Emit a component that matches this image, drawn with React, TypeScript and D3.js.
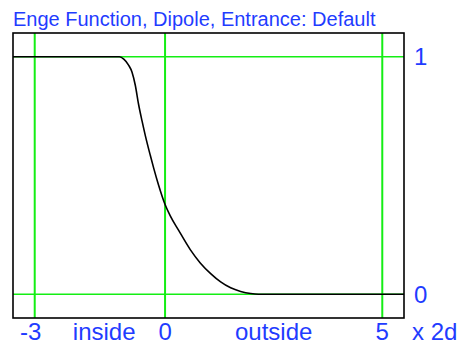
import React, { useEffect, useRef } from 'react'
import * as d3 from 'd3'

// field profile (position in gap units, normalised field)
const positions = [-3.5, -1.05, -0.95, -0.84, -0.76, -0.685, -0.61, -0.53, -0.45, -0.34, -0.26, -0.15, 0, 0.12, 0.31, 0.58, 0.81, 1.05, 1.28, 1.51, 1.74, 1.97, 2.15, 5.5]
const field = [1, 1, 0.99, 0.965, 0.935, 0.88, 0.8, 0.73, 0.665, 0.585, 0.53, 0.46, 0.378, 0.33, 0.27, 0.188, 0.132, 0.087, 0.052, 0.027, 0.012, 0.003, 0, 0]

const xGrid = [-3, 0, 5]
const yGrid = [0, 1]
const xLabels = [
  { v: -3, t: '-3' },
  { v: -1.4, t: 'inside' },
  { v: 0, t: '0' },
  { v: 2.5, t: 'outside' },
  { v: 5, t: '5' },
]
const title = 'Enge Function, Dipole, Entrance: Default'

const W = 459
const H = 343
const blue = '#1f3cff'
const green = '#14ee14'

const App = () => {
  const ref = useRef(null)

  useEffect(() => {
    const svg = d3.select(ref.current)
    svg.selectAll('*').remove()

    const box = { left: 13, right: 404, top: 33, bottom: 318 }

    const x = d3.scaleLinear().domain([-3.5, 5.5]).range([box.left, box.right])
    const y = d3.scaleLinear().domain([-0.1, 1.1]).range([box.bottom, box.top])

    svg.append('text')
      .attr('x', 13)
      .attr('y', 26)
      .attr('fill', blue)
      .attr('font-size', 20)
      .text(title)

    svg.selectAll('line.vg')
      .data(xGrid)
      .enter().append('line')
      .attr('class', 'vg')
      .attr('x1', d => x(d))
      .attr('x2', d => x(d))
      .attr('y1', box.top)
      .attr('y2', box.bottom)
      .attr('stroke', green)
      .attr('stroke-width', 2)

    svg.selectAll('line.hg')
      .data(yGrid)
      .enter().append('line')
      .attr('class', 'hg')
      .attr('x1', box.left)
      .attr('x2', box.right)
      .attr('y1', d => y(d))
      .attr('y2', d => y(d))
      .attr('stroke', green)
      .attr('stroke-width', 1.3)

    const line = d3.line<number>()
      .x((d, i) => x(positions[i]))
      .y(d => y(d))
      .curve(d3.curveMonotoneX)

    svg.append('path')
      .datum(field)
      .attr('d', line)
      .attr('fill', 'none')
      .attr('stroke', '#000')
      .attr('stroke-width', 1.6)

    svg.append('rect')
      .attr('x', box.left)
      .attr('y', box.top)
      .attr('width', box.right - box.left)
      .attr('height', box.bottom - box.top)
      .attr('fill', 'none')
      .attr('stroke', '#000')
      .attr('stroke-width', 1.6)

    svg.selectAll('text.yl')
      .data(yGrid)
      .enter().append('text')
      .attr('class', 'yl')
      .attr('x', 414)
      .attr('y', d => y(d))
      .attr('dy', '0.36em')
      .attr('fill', blue)
      .attr('font-size', 24)
      .text(d => String(d))

    svg.selectAll('text.xl')
      .data(xLabels)
      .enter().append('text')
      .attr('class', 'xl')
      .attr('x', d => x(d.v) - (d.t.startsWith('-') ? 4 : 0))
      .attr('y', 340)
      .attr('text-anchor', 'middle')
      .attr('fill', blue)
      .attr('font-size', 24)
      .text(d => d.t)

    svg.append('text')
      .attr('x', 412)
      .attr('y', 340)
      .attr('fill', blue)
      .attr('font-size', 24)
      .text('x 2d')
  }, [])

  return (
    <svg
      ref={ref}
      width={W}
      height={H}
      style={{ position: 'absolute', left: 0, top: 0, background: '#fff', fontFamily: 'Arial, "Liberation Sans", sans-serif' }}
    />
  )
}

export default App
